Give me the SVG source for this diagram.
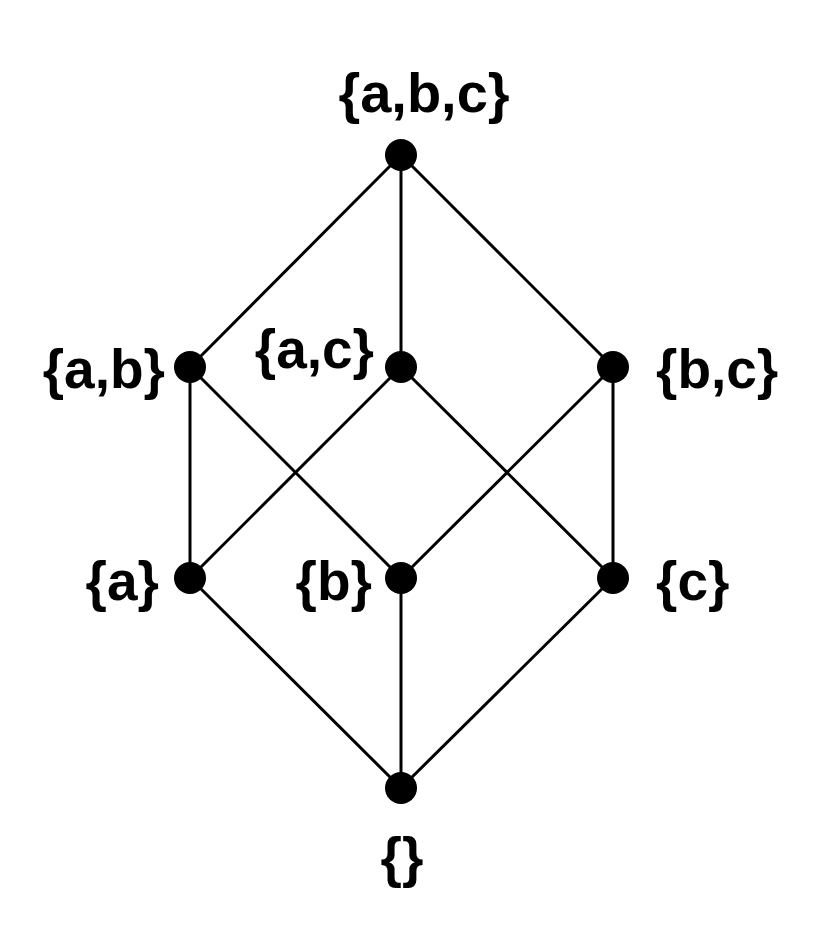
<svg xmlns="http://www.w3.org/2000/svg" width="836" height="940" viewBox="0 0 836 940">
<style>
.e{stroke:#000;stroke-width:3;fill:none}
.n{fill:#000}
text{font-family:"Liberation Sans",Arial,sans-serif;font-weight:bold;font-size:55px;fill:#000}
</style>
<rect width="836" height="940" fill="#fff"/>
<g id="edges">
<line class="e" x1="401" y1="155" x2="190" y2="367"/>
<line class="e" x1="401" y1="155" x2="401" y2="367"/>
<line class="e" x1="401" y1="155" x2="613" y2="367"/>
<line class="e" x1="190" y1="367" x2="190" y2="578"/>
<line class="e" x1="190" y1="367" x2="401" y2="578"/>
<line class="e" x1="401" y1="367" x2="190" y2="578"/>
<line class="e" x1="401" y1="367" x2="613" y2="578"/>
<line class="e" x1="613" y1="367" x2="401" y2="578"/>
<line class="e" x1="613" y1="367" x2="613" y2="578"/>
<line class="e" x1="190" y1="578" x2="401" y2="788"/>
<line class="e" x1="401" y1="578" x2="401" y2="788"/>
<line class="e" x1="613" y1="578" x2="401" y2="788"/>
</g>
<g id="abc"><circle class="n" cx="401" cy="155" r="16"/><text x="424" y="112" text-anchor="middle" style="font-size:56px">{a,b,c}</text></g>
<g id="ab"><circle class="n" cx="190" cy="367" r="16"/><text x="165" y="388" text-anchor="end">{a,b}</text></g>
<g id="ac"><circle class="n" cx="401" cy="367" r="16"/><text x="374" y="368" text-anchor="end">{a,c}</text></g>
<g id="bc"><circle class="n" cx="613" cy="367" r="16"/><text x="656" y="388">{b,c}</text></g>
<g id="a"><circle class="n" cx="190" cy="578" r="16"/><text x="159" y="600" text-anchor="end">{a}</text></g>
<g id="b"><circle class="n" cx="401" cy="578" r="16"/><text x="372" y="600" text-anchor="end">{b}</text></g>
<g id="c"><circle class="n" cx="613" cy="578" r="16"/><text x="656" y="600">{c}</text></g>
<g id="empty"><circle class="n" cx="401" cy="788" r="16"/><text x="402" y="876" text-anchor="middle">{}</text></g>
</svg>
